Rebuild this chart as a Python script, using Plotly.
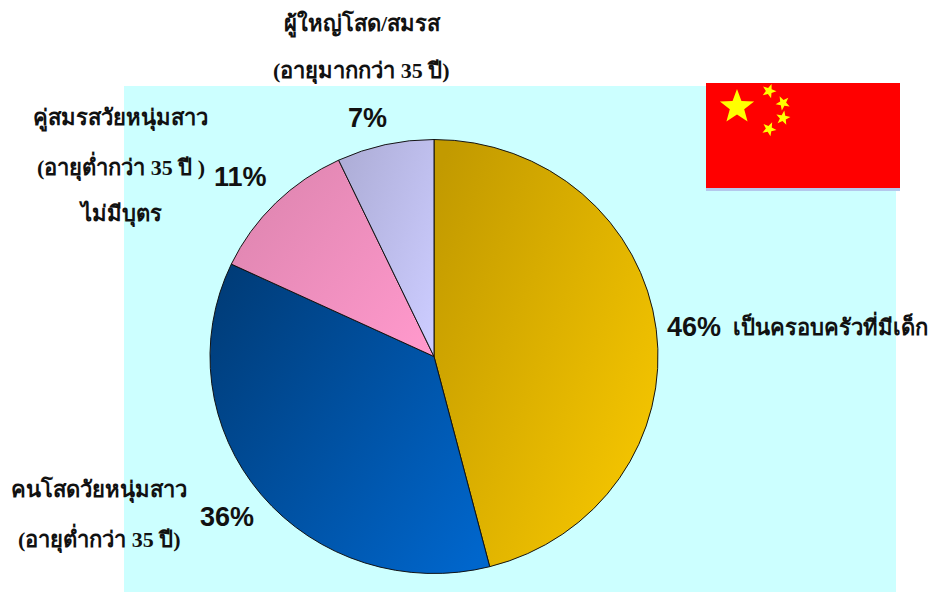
import json
import math
import plotly.graph_objects as go

W, H = 930, 592

# --- data ---
categories = ["เป็นครอบครัวที่มีเด็ก", "คนโสดวัยหนุ่มสาว", "คู่สมรสวัยหนุ่มสาว", "ผู้ใหญ่โสด/สมรส"]
values = [46, 36, 11, 7]
dark_colors = ["#C29A00", "#003C78", "#DC84AE", "#ADADD6"]
light_colors = ["#F9C900", "#0066CC", "#FF99CC", "#CCCCFF"]

# category label lines: (text, centre x, middle y)
label_lines = [
    ("ผู้ใหญ่โสด/สมรส", 362, 24),
    ("(อายุมากกว่า 35 ปี)", 361, 71),
    ("คู่สมรสวัยหนุ่มสาว", 121, 118),
    ("(อายุต่ำกว่า 35 ปี )", 121, 166),
    ("ไม่มีบุตร", 121, 214),
    ("เป็นครอบครัวที่มีเด็ก", 830, 325),
    ("คนโสดวัยหนุ่มสาว", 99, 490),
    ("(อายุต่ำกว่า 35 ปี)", 99, 538),
]
pct_positions = [(694, 327), (227, 517), (240, 177), (367, 118)]

CX, CY, RX, RY = 434, 356.5, 224, 217
THAI_FONT = "Liberation Serif, Noto Sans, DejaVu Serif, serif"


def px(x):
    return x / W


def py(y):
    return 1 - y / H


def rect(x0, y0, x1, y1, color, layer="above"):
    return dict(type="rect", xref="paper", yref="paper", x0=px(x0), x1=px(x1),
                y0=py(y1), y1=py(y0), fillcolor=color, line_width=0, layer=layer)


def star(cx, cy, r, rot=0.0, color="#FFFF00"):
    pts = []
    for i in range(10):
        rr = r if i % 2 == 0 else r * 0.42
        a = math.radians(rot + i * 36)
        pts.append((cx + rr * math.sin(a), cy - rr * math.cos(a)))
    d = "M" + " L".join(f"{px(x):.5f},{py(y):.5f}" for x, y in pts) + " Z"
    return dict(type="path", xref="paper", yref="paper", path=d, fillcolor=color,
                line_width=0, layer="above")


fig = go.Figure(go.Pie(
    labels=categories,
    values=values,
    sort=False,
    direction="clockwise",
    rotation=0,
    textinfo="none",
    hoverinfo="label+percent",
    showlegend=False,
    marker=dict(colors=light_colors, line=dict(color="#111111", width=1)),
    domain=dict(x=[px(CX - RX), px(CX + RX)], y=[py(CY + RX), py(CY - RX)]),
))

annotations = []
for text, x, y in label_lines:
    annotations.append(dict(text=f"<b>{text}</b>", x=px(x), y=py(y), xref="paper", yref="paper",
                            xanchor="center", yanchor="middle", showarrow=False,
                            font=dict(family=THAI_FONT, size=22, color="#111111")))
for v, (x, y) in zip(values, pct_positions):
    annotations.append(dict(text=f"<b>{v}%</b>", x=px(x), y=py(y), xref="paper", yref="paper",
                            xanchor="center", yanchor="middle", showarrow=False,
                            font=dict(family="Liberation Sans, Arial, sans-serif", size=27, color="#111111")))

shapes = [
    rect(124, 86, 896, 592, "#CCFFFF", layer="below"),
    rect(706, 188, 900, 191, "#B4C8EC"),
    rect(706, 83, 900, 188, "#FF0000"),
    star(737, 107, 18),
    star(769, 91, 7.5, 20),
    star(783, 103, 7.5, 45),
    star(783, 118, 7.5, 10),
    star(769, 129, 7.5, 25),
]

fig.update_layout(width=W, height=H, margin=dict(l=0, r=0, t=0, b=0),
                  paper_bgcolor="#FFFFFF", shapes=shapes, annotations=annotations)

post = """
document.body.style.margin = '0';
document.documentElement.style.overflow = 'hidden';
var gd = document.getElementById('{plot_id}');
var svg = gd.querySelector('.main-svg');
var NS = 'http://www.w3.org/2000/svg';
var defs = document.createElementNS(NS, 'defs');
svg.insertBefore(defs, svg.firstChild);
var dark = __DARK__, light = __LIGHT__;
gd.querySelectorAll('.pielayer path.surface').forEach(function (p, i) {
  var g = document.createElementNS(NS, 'linearGradient');
  g.setAttribute('id', 'slicegrad' + i);
  g.setAttribute('x1', '0'); g.setAttribute('y1', '0.1');
  g.setAttribute('x2', '1'); g.setAttribute('y2', '0.9');
  [[0, dark[i]], [1, light[i]]].forEach(function (s) {
    var st = document.createElementNS(NS, 'stop');
    st.setAttribute('offset', s[0]); st.setAttribute('stop-color', s[1]);
    g.appendChild(st);
  });
  defs.appendChild(g);
  p.style.fill = 'url(#slicegrad' + i + ')';
});
var s = __SY__, cy = __CY__;
var tr = gd.querySelector('.pielayer .trace');
tr.setAttribute('transform', 'translate(0,' + cy * (1 - s) + ') scale(1,' + s + ') ' + (tr.getAttribute('transform') || ''));
""".replace("__DARK__", json.dumps(dark_colors)).replace("__LIGHT__", json.dumps(light_colors)) \
   .replace("__SY__", str(RY / RX)).replace("__CY__", str(CY))

fig.write_html("out.html", post_script=post, config={"displayModeBar": False})
